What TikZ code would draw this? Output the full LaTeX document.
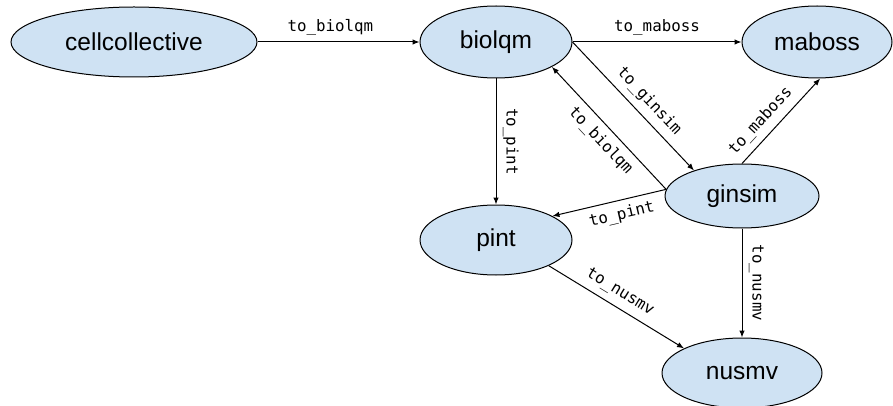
\documentclass[tikz,border=0pt]{standalone}
\usepackage{fontspec}
\setmainfont{Liberation Sans}
\newfontfamily\convfont{DejaVu Sans Mono}
\usetikzlibrary{arrows.meta,positioning,shapes.geometric}
\tikzset{>/.tip={Latex[length=7pt,width=5.5pt]}}
\definecolor{toolblue}{HTML}{CFE2F3}

\begin{document}
\begin{tikzpicture}[x=1pt,y=-1pt,on grid,line width=1pt,
    tool/.style={ellipse,draw,fill=toolblue,inner sep=0pt,
      font=\fontsize{24.5}{29}\selectfont},
    conv/.style={font=\convfont\fontsize{15.8}{18}\selectfont,inner sep=6.5pt}]
        \useasboundingbox (0,0) rectangle (893,406);
        \node(cc)[tool,minimum width=246pt,minimum height=70pt] at (134,42){cellcollective};
        \node(bq)[tool,minimum width=152pt,minimum height=72pt,right=362pt of cc]{biolqm};
        \node(mb)[tool,minimum width=150pt,minimum height=72pt,right=321pt of bq]{maboss};
        \node(pint)[tool,minimum width=152pt,minimum height=70pt,below=198pt of bq]{pint};
        \node(gs)[tool,minimum width=154pt,minimum height=64pt,below right=154pt and 246pt of bq]{ginsim};
        \node(nv)[tool,minimum width=160pt,minimum height=70pt,below=177pt of gs]{nusmv};
        \path[->,conv]
        (cc) edge node[above,pos=0.45]{to\_biolqm} (bq)
        (bq) edge node[above]{to\_maboss} (mb)
        (bq) edge node[sloped,above]{to\_pint} (pint)
        (bq.east) edge node[sloped,above,pos=0.54]{to\_ginsim} (gs.152)
        (gs.175) edge node[sloped,below,pos=0.48]{to\_biolqm} (bq.336)
        (gs.north) edge node[sloped,above,pos=0.38]{to\_maboss} (mb.275)
        (gs.175) edge node[sloped,below,pos=0.42]{to\_pint} (pint.23)
        (gs) edge node[sloped,above]{to\_nusmv} (nv)
        (pint.334) edge node[sloped,above,pos=0.47]{to\_nusmv} (nv.157);
\end{tikzpicture}
\end{document}
